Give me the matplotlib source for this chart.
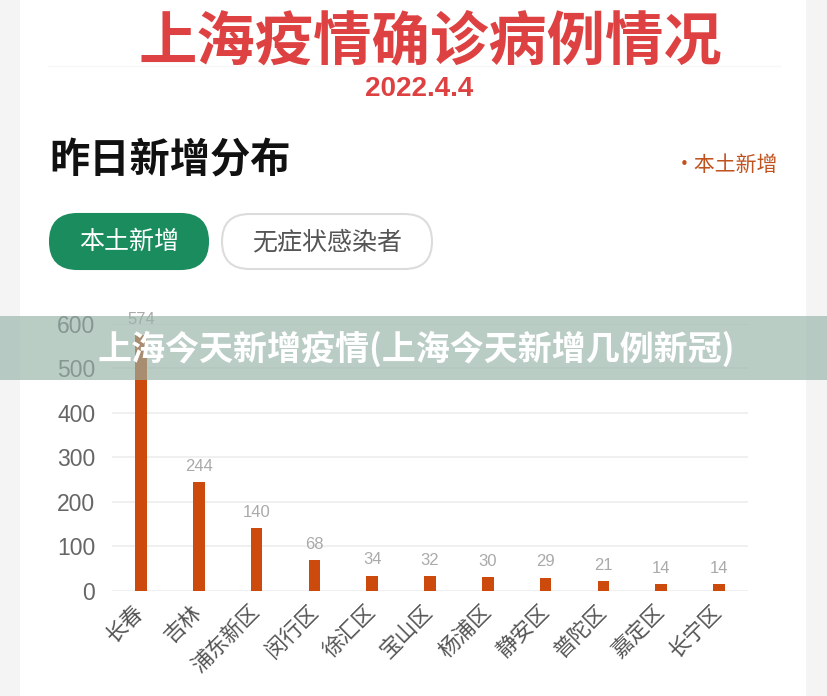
import matplotlib
matplotlib.use("Agg")
import matplotlib.pyplot as plt
from matplotlib.patches import Rectangle, FancyBboxPatch

plt.rcParams['font.family'] = ['Noto Sans CJK SC', 'DejaVu Sans']

# data
districts = ["长春", "吉林", "浦东新区", "闵行区", "徐汇区", "宝山区",
             "杨浦区", "静安区", "普陀区", "嘉定区", "长宁区"]
new_cases = [574, 244, 140, 68, 34, 32, 30, 29, 21, 14, 14]
y_ticks = [0, 100, 200, 300, 400, 500, 600]

title = "上海疫情确诊病例情况"
date_text = "2022.4.4"
section_title = "昨日新增分布"
legend_text = "•本土新增"
tab_active = "本土新增"
tab_inactive = "无症状感染者"
banner_text = "上海今天新增疫情(上海今天新增几例新冠)"

W, H = 828, 696
NUM_FONT = ['Liberation Sans', 'DejaVu Sans']


def fx(px):
    return px / W


def fy(py):
    return 1 - py / H


fig = plt.figure(figsize=(W / 100, H / 100), dpi=100, facecolor="#f4f4f4")

# white card
fig.patches.append(Rectangle((fx(20), 0), fx(786), 1, transform=fig.transFigure,
                             facecolor="white", edgecolor="none", zorder=-5))
# faint line behind title
fig.add_artist(plt.Line2D([fx(48), fx(780)], [fy(66), fy(66)], color="#f6f6f6", lw=1, zorder=-4))

fig.text(fx(430), fy(42), title, color="#de4141", fontsize=42, fontweight="bold",
         ha="center", va="center")
fig.text(fx(419), fy(89), date_text, color="#de4141", fontsize=20, fontweight="bold",
         family=NUM_FONT, ha="center", va="center")
fig.text(fx(49), fy(161), section_title, color="#111111", fontsize=29, fontweight="bold",
         ha="left", va="center")
fig.text(fx(778), fy(165), legend_text, color="#c0521e", fontsize=15,
         ha="right", va="center")

# tabs
def pill(x0, x1, y0, y1, face, edge):
    h = y1 - y0
    p = FancyBboxPatch((x0 / 100, (H - y1) / 100), (x1 - x0) / 100, h / 100,
                       boxstyle=f"round,pad=0,rounding_size={h / 200}",
                       transform=fig.dpi_scale_trans, facecolor=face,
                       edgecolor=edge, lw=1.5, zorder=1)
    fig.patches.append(p)


pill(50, 208, 214, 269, "#1b8c5e", "#1b8c5e")
pill(222, 432, 214, 269, "white", "#dcdcdc")
fig.text(fx(129), fy(242), tab_active, color="white", fontsize=18, ha="center", va="center", zorder=2)
fig.text(fx(327), fy(242), tab_inactive, color="#555555", fontsize=18, ha="center", va="center", zorder=2)

# bar chart
ax = fig.add_axes([fx(112), fy(590.7), fx(748 - 112), fy(323.7) - fy(590.7)])
ax.set_facecolor("none")
x = list(range(len(districts)))
ax.bar(x, new_cases, width=0.2, color="#cc4a0c", zorder=3)
ax.set_xlim(-0.5, len(districts) - 0.5)
ax.set_ylim(0, 600)
ax.set_yticks(y_ticks)
ax.set_yticklabels([str(v) for v in y_ticks], family=NUM_FONT, fontsize=16.5, color="#666666")
ax.set_xticks(x)
ax.set_xticklabels(districts, rotation=45, ha="right", va="center", rotation_mode="anchor",
                   fontsize=15.5, color="#555555")
ax.tick_params(axis="y", length=0, pad=12)
ax.tick_params(axis="x", length=0, pad=13)
for s in ax.spines.values():
    s.set_visible(False)
ax.grid(axis="y", color="#eeeeee", lw=1.2, zorder=0)
ax.set_axisbelow(True)

for xi, v in zip(x, new_cases):
    ax.annotate(str(v), (xi, v), xytext=(0, 6), textcoords="offset points",
                ha="center", va="bottom", fontsize=12, color="#aaaaaa", family=NUM_FONT)

# overlay banner
fig.patches.append(Rectangle((0, fy(380)), 1, fy(316) - fy(380), transform=fig.transFigure,
                             facecolor=(150 / 255, 178 / 255, 167 / 255), alpha=0.65,
                             edgecolor="none", zorder=5))
fig.text(fx(416), fy(349), banner_text, color="white", fontsize=24.5, fontweight="bold",
         ha="center", va="center", zorder=6)

fig.savefig("out.png", dpi=100, facecolor=fig.get_facecolor())
